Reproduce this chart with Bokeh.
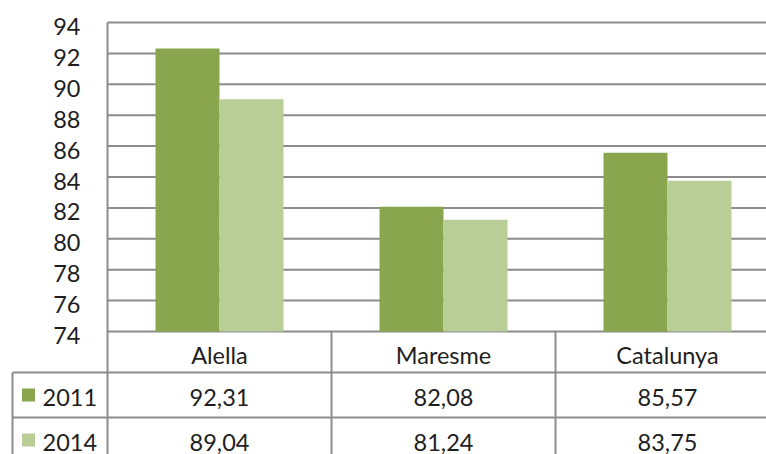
from bokeh.plotting import figure
from bokeh.models import Range1d, ColumnDataSource
from bokeh.transform import dodge
from bokeh.core.properties import value
from bokeh.embed import file_html
from bokeh.resources import INLINE

# ---- data ----
categories = ["Alella", "Maresme", "Catalunya"]
series_names = ["2011", "2014"]
values_2011 = [92.31, 82.08, 85.57]
values_2014 = [89.04, 81.24, 83.75]
y_ticks = [74, 76, 78, 80, 82, 84, 86, 88, 90, 92, 94]

# ---- style ----
C2011 = "#89A54E"
C2014 = "#B9CD96"
LINE = "#8C8C8C"
TXT = "#1E1E1E"
FONT = "Lato"
FS = "23.5px"

# ---- layout (pixels) ----
W, H = 766, 454
PX_PER_CAT = 224.0       # width of one category column
PX_PER_UNIT = 15.45      # px per value unit
AXIS_PX = 107            # x of value axis
TOP_TICK_PX = 22         # y of top gridline
ROW_TOP_PX = 372         # y of first table data row
ROW_PX = 45.0            # table row height
HEADER_W = 95            # table header column width
BAR_W = 64 / PX_PER_CAT

ymin, ymax = y_ticks[0], y_ticks[-1]
x_axis = -0.5
x_lo = x_axis - AXIS_PX / PX_PER_CAT
x_hi = x_axis + (W - AXIS_PX) / PX_PER_CAT
y_hi = ymax + TOP_TICK_PX / PX_PER_UNIT
y_lo = ymax - (H - TOP_TICK_PX) / PX_PER_UNIT
r_hi = ROW_TOP_PX / ROW_PX
r_lo = -(H - ROW_TOP_PX) / ROW_PX

idx = list(range(len(categories)))
src = ColumnDataSource(dict(x=idx, v2011=values_2011, v2014=values_2014, cat=categories))

p = figure(width=W, height=H, x_range=Range1d(x_lo, x_hi), y_range=Range1d(y_lo, y_hi),
           output_backend="svg", toolbar_location=None, x_axis_location=None,
           y_axis_location=None, min_border=0)
p.extra_y_ranges = {"rows": Range1d(r_lo, r_hi)}
p.outline_line_color = None
p.grid.visible = False
p.background_fill_color = "white"
p.border_fill_color = "white"

# gridlines and value axis
p.segment(x0=x_axis, x1=x_hi, y0=y_ticks, y1=y_ticks, line_color=LINE, line_width=2)
p.segment(x0=[x_axis], x1=[x_axis], y0=ymax, y1=y_lo, line_color=LINE, line_width=2)
p.text(x=x_axis - 27 / PX_PER_CAT, y=y_ticks, text=[str(t) for t in y_ticks],
       text_font=value(FONT), text_font_size=FS, text_color=TXT, text_align="right",
       text_baseline="middle", y_offset=4)

# bars
p.vbar(x=dodge("x", -BAR_W / 2, range=p.x_range), top="v2011", bottom=ymin, width=BAR_W,
       source=src, fill_color=C2011, line_color=None)
p.vbar(x=dodge("x", BAR_W / 2, range=p.x_range), top="v2014", bottom=ymin, width=BAR_W,
       source=src, fill_color=C2014, line_color=None)

# data table
bounds = [i + 0.5 for i in idx[:-1]]
p.segment(x0=bounds, x1=bounds, y0=ymin, y1=y_lo, line_color=LINE, line_width=2)
left_border = x_axis - HEADER_W / PX_PER_CAT
rows = [0, -1]
p.segment(x0=left_border, x1=x_hi, y0=rows, y1=rows, line_color=LINE, line_width=2,
          y_range_name="rows")
p.segment(x0=[left_border], x1=[left_border], y0=0, y1=r_lo, line_color=LINE, line_width=2,
          y_range_name="rows")

cat_row_r = (ROW_TOP_PX - (TOP_TICK_PX + (ymax - ymin) * PX_PER_UNIT)) / ROW_PX
p.text(x="x", y=cat_row_r / 2, text="cat", source=src, text_font=value(FONT),
       text_font_size=FS, text_color=TXT, text_align="center", text_baseline="middle",
       y_offset=3, y_range_name="rows")

row_y = [-(i + 0.5) for i in range(len(series_names))]
p.scatter(x=x_axis - 79 / PX_PER_CAT, y=row_y, marker="square", size=13,
          color=[C2011, C2014], line_color=None, y_range_name="rows")
p.text(x=x_axis - 65 / PX_PER_CAT, y=row_y, text=series_names, text_font=value(FONT),
       text_font_size=FS, text_color=TXT, text_align="left", text_baseline="middle",
       y_offset=2, y_range_name="rows")

def fmt(v):
    return f"{v:.2f}".replace(".", ",")

for r, vals in enumerate([values_2011, values_2014]):
    p.text(x=idx, y=row_y[r], text=[fmt(v) for v in vals], text_font=value(FONT),
           text_font_size=FS, text_color=TXT, text_align="center", text_baseline="middle",
           y_offset=2, y_range_name="rows")

open("out.html", "w").write(file_html(p, INLINE))
